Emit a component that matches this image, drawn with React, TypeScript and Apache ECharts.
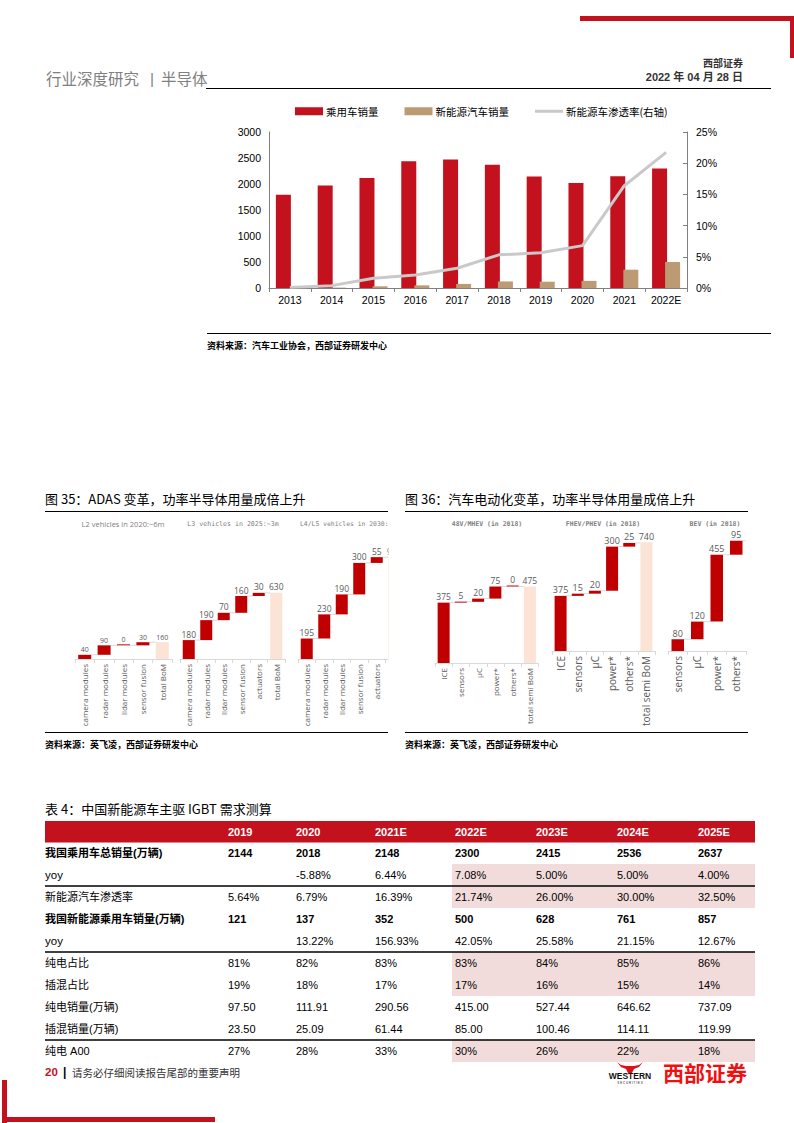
import React, { useEffect, useRef } from "react";
import * as echarts from "echarts";

// ---------- Top chart data ----------
const years = ["2013", "2014", "2015", "2016", "2017", "2018", "2019", "2020", "2021", "2022E"];
const passengerSales = [1793, 1970, 2115, 2438, 2472, 2371, 2144, 2018, 2148, 2300];
const nevSales = [1.8, 7.5, 33, 51, 78, 126, 121, 137, 352, 500];
const nevPenetration = [0.1, 0.38, 1.56, 2.09, 3.16, 5.31, 5.64, 6.79, 16.39, 21.74];
const leftTicks = { min: 0, max: 3000, interval: 500 };
const rightTicks = { min: 0, max: 25, interval: 5 };

// ---------- Fig 35 data ----------
const l2Cats = ["camera modules", "radar modules", "lidar modules", "sensor fusion", "total BoM"];
const l2Vals = [40, 90, 0, 30, 160];
const l3Cats = ["camera modules", "radar modules", "lidar modules", "sensor fusion", "actuators", "total BoM"];
const l3Vals = [180, 190, 70, 160, 30, 630];
const l45Cats = ["camera modules", "radar modules", "lidar modules", "sensor fusion", "actuators", "total BoM"];
const l45Vals = [195, 230, 190, 300, 55, 970];

// ---------- Fig 36 data ----------
const mhevCats = ["ICE", "sensors", "µC", "power*", "others*", "total semi BoM"];
const mhevVals = [375, 5, 20, 75, 0, 475];
const phevCats = ["ICE", "sensors", "µC", "power*", "others*", "total semi BoM"];
const phevVals = [375, 15, 20, 300, 25, 740];
const bevCats = ["sensors", "µC", "power*", "others*"];
const bevVals = [80, 120, 455, 95];

// ---------- Table data ----------
const tableYears = ["2019", "2020", "2021E", "2022E", "2023E", "2024E", "2025E"];
const rowLabels = [
  "我国乘用车总销量(万辆)",
  "yoy",
  "新能源汽车渗透率",
  "我国新能源乘用车销量(万辆)",
  "yoy",
  "纯电占比",
  "插混占比",
  "纯电销量(万辆)",
  "插混销量(万辆)",
  "纯电 A00",
];
const rowTotalSales = ["2144", "2018", "2148", "2300", "2415", "2536", "2637"];
const rowTotalYoy = ["", "-5.88%", "6.44%", "7.08%", "5.00%", "5.00%", "4.00%"];
const rowPenetration = ["5.64%", "6.79%", "16.39%", "21.74%", "26.00%", "30.00%", "32.50%"];
const rowNevSales = ["121", "137", "352", "500", "628", "761", "857"];
const rowNevYoy = ["", "13.22%", "156.93%", "42.05%", "25.58%", "21.15%", "12.67%"];
const rowBevShare = ["81%", "82%", "83%", "83%", "84%", "85%", "86%"];
const rowPhevShare = ["19%", "18%", "17%", "17%", "16%", "15%", "14%"];
const rowBevSales = ["97.50", "111.91", "290.56", "415.00", "527.44", "646.62", "737.09"];
const rowPhevSales = ["23.50", "25.09", "61.44", "85.00", "100.46", "114.11", "119.99"];
const rowBevA00 = ["27%", "28%", "33%", "30%", "26%", "22%", "18%"];
const tableRows = [
  rowTotalSales, rowTotalYoy, rowPenetration, rowNevSales, rowNevYoy,
  rowBevShare, rowPhevShare, rowBevSales, rowPhevSales, rowBevA00,
];
const boldRows = [0, 3];
const shadedRows = [1, 2, 5, 6, 9];
const ruleAfterRows = [1, 4, 8];

// ---------- styles / layout ----------
const RED = "#c3111e";
const TAN = "#bc9a74";
const GREY_LINE = "#c9c9c9";
const WF_RED = "#c00000";
const WF_TOTAL = "#fbe3d6";
const CJK = '"Noto Sans CJK SC", "Noto Sans", sans-serif';
const ARIAL = '"Liberation Sans", Arial, sans-serif';
const MONO = '"DejaVu Sans Mono", monospace';
const OPEN = '"Open Sans", "Noto Sans", sans-serif';

const wfData = [
  { cats: l2Cats, vals: l2Vals, total: true, tail: false },
  { cats: l3Cats, vals: l3Vals, total: true, tail: false },
  { cats: l45Cats, vals: l45Vals, total: true, tail: false },
  { cats: mhevCats, vals: mhevVals, total: true, tail: false },
  { cats: phevCats, vals: phevVals, total: true, tail: false },
  { cats: bevCats, vals: bevVals, total: false, tail: true },
];
const wfLayout = [
  { left: 75, width: 97, baseY: 659, max: 1000, height: 105, barW: 13, labelSize: 7, catSize: 8 },
  { left: 180, width: 105, baseY: 659, max: 1000, height: 105, barW: 12, labelSize: 8.5, catSize: 8 },
  { left: 298, width: 105, baseY: 659, max: 1000, height: 105, barW: 12, labelSize: 8.5, catSize: 8 },
  { left: 435, width: 103.5, baseY: 663, max: 500, height: 80.5, barW: 12, labelSize: 8.5, catSize: 8 },
  { left: 552, width: 103, baseY: 651, max: 800, height: 117.6, barW: 12, labelSize: 9, catSize: 10 },
  { left: 668, width: 78, baseY: 651, max: 800, height: 117.6, barW: 12.5, labelSize: 9, catSize: 10 },
];

const colX = [228, 296, 375, 455, 536, 617, 698];

function txt(x: number, y: number, text: string, o: any = {}) {
  return {
    type: "text",
    x,
    y,
    z: o.z ?? 50,
    style: {
      text,
      fill: o.fill ?? "#000",
      fontSize: o.size ?? 12,
      fontFamily: o.family ?? CJK,
      fontWeight: o.weight ?? "normal",
      textAlign: o.align ?? "left",
      align: o.align ?? "left",
      textVerticalAlign: "middle",
      verticalAlign: "middle",
    },
  };
}
function rect(x: number, y: number, w: number, h: number, fill: string, z = 10) {
  return { type: "rect", z, shape: { x, y, width: w, height: h }, style: { fill } };
}
function hline(x1: number, x2: number, y: number, stroke: string, lw = 1, z = 20) {
  return { type: "line", z, shape: { x1, y1: y, x2, y2: y }, style: { stroke, lineWidth: lw } };
}

function buildOption() {
  const grid: any[] = [];
  const xAxis: any[] = [];
  const yAxis: any[] = [];
  const series: any[] = [];
  const graphic: any[] = [];

  // ---------- top chart ----------
  grid.push({ left: 269, top: 132, width: 418, height: 156 });
  xAxis.push({
    type: "category",
    gridIndex: 0,
    data: years,
    axisLine: { lineStyle: { color: "#7f7f7f", width: 1 } },
    axisTick: { show: true, alignWithLabel: false, length: 4, lineStyle: { color: "#7f7f7f" } },
    axisLabel: { color: "#000", fontSize: 10.5, fontFamily: ARIAL, margin: 6, interval: 0 },
  });
  yAxis.push({
    type: "value",
    gridIndex: 0,
    ...leftTicks,
    axisLine: { show: true, lineStyle: { color: "#7f7f7f" } },
    axisTick: { show: false },
    splitLine: { show: false },
    axisLabel: {
      color: "#000",
      fontSize: 10.5,
      fontFamily: ARIAL,
      margin: 8,
      formatter: (v: number) => String(v),
    },
  });
  yAxis.push({
    type: "value",
    gridIndex: 0,
    position: "right",
    ...rightTicks,
    axisLine: { show: true, lineStyle: { color: "#7f7f7f" } },
    axisTick: { show: true, inside: true, length: 4, lineStyle: { color: "#7f7f7f" } },
    splitLine: { show: false },
    axisLabel: { color: "#000", fontSize: 10.5, fontFamily: ARIAL, margin: 9, formatter: "{value}%" },
  });
  series.push({
    name: "乘用车销量",
    type: "bar",
    xAxisIndex: 0,
    yAxisIndex: 0,
    data: passengerSales,
    barWidth: 15,
    barGap: "-13%",
    itemStyle: { color: RED },
  });
  series.push({
    name: "新能源汽车销量",
    type: "bar",
    xAxisIndex: 0,
    yAxisIndex: 0,
    data: nevSales,
    barWidth: 15,
    barGap: "-13%",
    itemStyle: { color: TAN },
  });
  series.push({
    name: "新能源车渗透率(右轴)",
    type: "line",
    xAxisIndex: 0,
    yAxisIndex: 1,
    data: nevPenetration,
    symbol: "none",
    lineStyle: { color: GREY_LINE, width: 3 },
    itemStyle: { color: GREY_LINE },
    z: 5,
  });

  // ---------- waterfalls ----------
  wfData.forEach((d, k) => {
    const L = wfLayout[k];
    const gi = grid.length;
    grid.push({ left: L.left, top: L.baseY - L.height, width: L.width, height: L.height });
    const xi = xAxis.length;
    xAxis.push({
      type: "category",
      gridIndex: gi,
      data: d.cats,
      axisLine: { lineStyle: { color: "#d9d9d9", width: 1 } },
      axisTick: { show: true, length: 4, lineStyle: { color: "#d9d9d9" } },
      axisLabel: { rotate: 90, interval: 0, fontSize: L.catSize, color: "#595959", fontFamily: OPEN, margin: 5 },
    });
    const yi = yAxis.length;
    yAxis.push({ type: "value", gridIndex: gi, min: 0, max: L.max, show: false, splitLine: { show: false } });
    const n = d.vals.length;
    const base: number[] = [];
    const cum: number[] = [];
    let run = 0;
    d.vals.forEach((v, i) => {
      const isTotal = d.total && i === n - 1;
      if (isTotal) {
        base.push(0);
        cum.push(v);
      } else {
        base.push(run);
        run += v;
        cum.push(run);
      }
    });
    series.push({
      type: "bar",
      stack: "wf" + k,
      xAxisIndex: xi,
      yAxisIndex: yi,
      data: base,
      barWidth: L.barW,
      silent: true,
      itemStyle: { color: "rgba(0,0,0,0)" },
      label: { show: false },
    });
    series.push({
      type: "bar",
      stack: "wf" + k,
      xAxisIndex: xi,
      yAxisIndex: yi,
      barWidth: L.barW,
      barMinHeight: 1,
      data: d.vals.map((v, i) => ({
        value: v,
        itemStyle: { color: d.total && i === n - 1 ? WF_TOTAL : WF_RED },
      })),
      label: {
        show: true,
        position: "top",
        distance: 1.5,
        fontSize: L.labelSize,
        color: "#595959",
        fontFamily: OPEN,
      },
      z: 3,
    });
    const conn: number[][] = [];
    for (let i = 0; i < n - 1; i++) conn.push([i, cum[i], 0]);
    if (d.tail) conn.push([n - 1, cum[n - 1], 1]);
    const bw = L.barW;
    series.push({
      type: "custom",
      xAxisIndex: xi,
      yAxisIndex: yi,
      data: conn,
      z: 1,
      silent: true,
      renderItem: (params: any, api: any) => {
        const i = api.value(0);
        const lv = api.value(1);
        const tail = api.value(2);
        const p = api.coord([i, lv]);
        const cw = api.size([1, 0])[0];
        const x1 = p[0] + bw / 2;
        const x2 = tail ? p[0] + cw / 2 : p[0] + cw - bw / 2;
        return {
          type: "line",
          shape: { x1, y1: p[1], x2, y2: p[1] },
          style: { stroke: "#d9d9d9", lineWidth: 1 },
        };
      },
    });
  });

  // ---------- page decorations ----------
  graphic.push(rect(580, 16, 216, 5, RED, 30));
  graphic.push(rect(790, 16, 6, 42, RED, 30));
  graphic.push(txt(743, 62, "西部证券", { size: 10, weight: "bold", align: "right", fill: "#333" }));
  graphic.push(txt(743, 77, "2022 年 04 月 28 日", { size: 11, weight: "bold", align: "right", fill: "#333", family: ARIAL + "," + CJK }));
  graphic.push(txt(46, 78, "行业深度研究", { size: 15.5, fill: "#808080" }));
  graphic.push(txt(150, 78, "|", { size: 15.5, fill: "#808080", family: ARIAL }));
  graphic.push(txt(161, 78, "半导体", { size: 15.5, fill: "#808080" }));
  graphic.push(hline(206, 771, 88.5, "#000", 1.2));

  // top chart source
  graphic.push(hline(207, 771, 333.5, "#000", 1.2));
  graphic.push(txt(207, 345, "资料来源：汽车工业协会，西部证券研发中心", { size: 9, weight: "bold", fill: "#000" }));

  // figure titles
  graphic.push(txt(45, 498, "图 35：ADAS 变革，功率半导体用量成倍上升", { size: 13, fill: "#000" }));
  graphic.push(hline(45, 388, 511.5, "#000", 1.2));
  graphic.push(txt(405, 498, "图 36：汽车电动化变革，功率半导体用量成倍上升", { size: 13, fill: "#000" }));
  graphic.push(hline(405, 748, 511.5, "#000", 1.2));

  // panel subtitles
  graphic.push(txt(123, 524, "L2 vehicles in 2020:~6m", { size: 7.5, fill: "#808080", family: OPEN, align: "center" }));
  graphic.push(txt(233, 524, "L3 vehicles in 2025:~3m", { size: 6.6, fill: "#808080", family: MONO, align: "center" }));
  graphic.push(txt(300, 524, "L4/L5 vehicles in 2030:~", { size: 6.4, fill: "#808080", family: MONO }));
  graphic.push(txt(487, 524, "48V/MHEV (in 2018)", { size: 6.5, fill: "#808080", family: MONO, align: "center", weight: "bold" }));
  graphic.push(txt(603, 524, "FHEV/PHEV (in 2018)", { size: 6.5, fill: "#808080", family: MONO, align: "center", weight: "bold" }));
  graphic.push(txt(715, 524, "BEV (in 2018)", { size: 6.5, fill: "#808080", family: MONO, align: "center", weight: "bold" }));

  // mask clipping the third ADAS panel
  graphic.push(rect(388.6, 514, 15.5, 216, "#fff", 100));

  // figure sources
  graphic.push(hline(45, 388, 732.5, "#000", 1.2));
  graphic.push(hline(405, 748, 732.5, "#000", 1.2));
  graphic.push(txt(45, 744, "资料来源：英飞凌，西部证券研发中心", { size: 9, weight: "bold", fill: "#000" }));
  graphic.push(txt(405, 744, "资料来源：英飞凌，西部证券研发中心", { size: 9, weight: "bold", fill: "#000" }));

  // ---------- table ----------
  const tLeft = 45;
  const tRight = 755;
  const rowH = 22;
  const firstRowY = 842;
  graphic.push(txt(45, 808, "表 4：中国新能源车主驱 IGBT 需求测算", { size: 13, fill: "#000" }));
  graphic.push(rect(tLeft, 821, tRight - tLeft, 21.5, RED, 10));
  tableYears.forEach((y, c) => {
    graphic.push(txt(colX[c], 832, y, { size: 11, weight: "bold", fill: "#fff", family: ARIAL }));
  });
  shadedRows.forEach((r) => {
    graphic.push(rect(452, firstRowY + r * rowH, tRight - 452, rowH, "#f2dcdb", 5));
  });
  ruleAfterRows.forEach((r) => {
    graphic.push(hline(tLeft, tRight, firstRowY + (r + 1) * rowH, "#000", 1.3, 25));
  });
  rowLabels.forEach((lab, r) => {
    const cy = firstRowY + r * rowH + rowH / 2;
    const bold = boldRows.includes(r);
    graphic.push(
      txt(tLeft, cy, lab, {
        size: lab === "yoy" ? 11.5 : 11,
        weight: bold ? "bold" : "normal",
        family: lab === "yoy" ? ARIAL : ARIAL + "," + CJK,
      })
    );
    tableRows[r].forEach((v, c) => {
      if (v) graphic.push(txt(colX[c], cy, v, { size: 11, weight: bold ? "bold" : "normal", family: ARIAL }));
    });
  });

  // ---------- footer ----------
  graphic.push(txt(45, 1072, "20", { size: 11.5, weight: "bold", fill: RED, family: ARIAL }));
  graphic.push(txt(63, 1072, "|", { size: 12, weight: "bold", fill: "#000", family: ARIAL }));
  graphic.push(txt(72, 1072, "请务必仔细阅读报告尾部的重要声明", { size: 10.5, fill: "#333" }));
  graphic.push({
    type: "polygon",
    z: 30,
    shape: {
      points: [
        [617, 1062], [621, 1067], [626, 1069], [628, 1073], [632, 1073], [634, 1069],
        [639, 1067], [643, 1062], [639, 1065], [634, 1066], [626, 1066], [621, 1065],
      ],
    },
    style: { fill: "#e0101a" },
  });
  graphic.push(txt(630, 1076, "WESTERN", { size: 8.5, weight: "bold", fill: "#111", family: ARIAL, align: "center" }));
  graphic.push(txt(630, 1082.5, "S E C U R I T I E S", { size: 3, fill: "#111", family: ARIAL, align: "center" }));
  graphic.push(txt(705, 1072, "西部证券", { size: 21, weight: "bold", fill: "#f01010", align: "center" }));
  graphic.push(rect(2, 1080, 5, 43, RED, 30));
  graphic.push(rect(2, 1117, 213, 5, RED, 30));

  return {
    animation: false,
    backgroundColor: "#fff",
    textStyle: { fontFamily: ARIAL },
    legend: {
      left: 295,
      top: 106,
      padding: 0,
      itemWidth: 28,
      itemHeight: 8,
      itemGap: 26,
      selectedMode: false,
      textStyle: { fontSize: 10.5, fontFamily: CJK, color: "#000", padding: [0, 0, 0, -2] },
      data: [
        { name: "乘用车销量", icon: "rect" },
        { name: "新能源汽车销量", icon: "rect" },
        { name: "新能源车渗透率(右轴)", icon: "path://M0,0H28V3H0Z" },
      ],
    },
    grid,
    xAxis,
    yAxis,
    series,
    graphic: { elements: graphic },
  };
}

export default function App() {
  const ref = useRef<HTMLDivElement>(null);
  useEffect(() => {
    document.body.style.margin = "0";
    const chart = echarts.init(ref.current as HTMLDivElement, null, {
      renderer: "svg",
      width: 794,
      height: 1123,
    });
    chart.setOption(buildOption() as any);
    return () => chart.dispose();
  }, []);
  return (
    <div
      ref={ref}
      style={{ position: "absolute", left: 0, top: 0, width: 794, height: 1123, background: "#fff" }}
    />
  );
}
